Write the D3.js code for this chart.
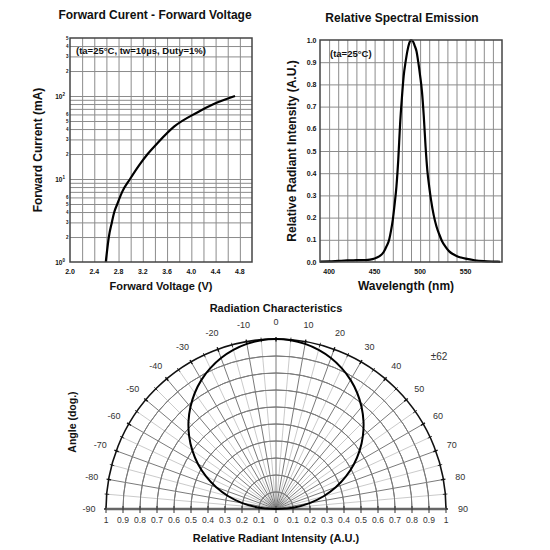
<!DOCTYPE html>
<html><head><meta charset="utf-8">
<script src="https://cdn.jsdelivr.net/npm/d3@7"></script>
<style>body{margin:0;background:#fff}svg{display:block}text{font-family:"Liberation Sans",Arial,sans-serif;fill:#111}</style>
</head><body>
<script>
// ---------- DATA ----------
const fvVoltage = [2.59, 2.64, 2.69, 2.73, 2.78, 2.86, 2.99, 3.15, 3.28, 3.44, 3.72, 4.09, 4.37, 4.72];
const fvCurrent = [1, 2, 3, 4, 5, 7, 10, 15, 20, 27, 43, 63, 80, 100];
const fvXTicks = [2.0, 2.4, 2.8, 3.2, 3.6, 4.0, 4.4, 4.8];
const fvYDecades = [1, 10, 100];
const fvYDecadeExp = ["0", "1", "2"];

const specWl = [390,400,410,420,430,440,445,450,455,460,463,466,468,470,472,474,476,478,480,482,484,486,488,490,492,494,496,498,500,502,504,506,508,510,512,515,518,521,524,528,532,536,540,545,550,560,570,580,588];
const specVal = [0.002,0.003,0.005,0.007,0.008,0.009,0.011,0.016,0.025,0.045,0.07,0.1,0.14,0.19,0.26,0.34,0.46,0.62,0.74,0.84,0.9,0.95,0.985,1.0,0.995,0.975,0.95,0.9,0.84,0.77,0.66,0.52,0.41,0.34,0.28,0.21,0.16,0.125,0.095,0.068,0.048,0.036,0.027,0.02,0.015,0.008,0.004,0.002,0.001];
const specXTicks = [400, 450, 500, 550];
const specYTicks = [0,0.1,0.2,0.3,0.4,0.5,0.6,0.7,0.8,0.9,1.0];

const radAngle = [-90,-85,-80,-75,-70,-65,-60,-55,-50,-45,-40,-35,-30,-25,-20,-15,-10,-5,0,5,10,15,20,25,30,35,40,45,50,55,60,65,70,75,80,85,90];
const radIntensity = [0,0.107,0.201,0.290,0.374,0.454,0.530,0.601,0.667,0.728,0.783,0.833,0.877,0.914,0.945,0.969,0.986,0.997,1,0.997,0.986,0.969,0.945,0.914,0.877,0.833,0.783,0.728,0.667,0.601,0.530,0.454,0.374,0.290,0.201,0.107,0];
const radAngleTicks = [-90,-80,-70,-60,-50,-40,-30,-20,-10,0,10,20,30,40,50,60,70,80,90];
const radRTicks = [-1,-0.9,-0.8,-0.7,-0.6,-0.5,-0.4,-0.3,-0.2,-0.1,0,0.1,0.2,0.3,0.4,0.5,0.6,0.7,0.8,0.9,1];
const halfAngleLabel = "±62";

// ---------- SVG ----------
const svg = d3.select("body").append("svg").attr("width",550).attr("height",550);
svg.append("rect").attr("width",550).attr("height",550).attr("fill","#fff");
const GRID = "#8c8c8c", FRAME = "#444";

// ===== Chart 1: Forward current vs voltage =====
const x1 = d3.scaleLinear().domain([2,5]).range([70,252]);
const y1 = d3.scaleLog().domain([1,500]).range([262,38]);
const g1 = svg.append("g");
g1.append("g").attr("transform","translate(0,262)")
  .call(d3.axisBottom(x1).tickValues(d3.range(2.2,4.9,0.2)).tickSize(-224).tickFormat(""))
  .call(g=>{g.select(".domain").remove();g.selectAll("line").attr("stroke",GRID).attr("stroke-width",1);});
const fvMinor = [];
fvYDecades.forEach(d=>{for(let k=1;k<=9;k++){const v=k*d; if(v>1&&v<500) fvMinor.push(v);}});
g1.append("g").attr("transform","translate(70,0)")
  .call(d3.axisLeft(y1).tickValues(fvMinor).tickSize(-182).tickFormat(""))
  .call(g=>{g.select(".domain").remove();g.selectAll("line").attr("stroke",GRID).attr("stroke-width",1);});
g1.append("path").datum(fvVoltage.map((v,i)=>[v,fvCurrent[i]]))
  .attr("d",d3.line().x(d=>x1(d[0])).y(d=>y1(d[1])).curve(d3.curveMonotoneX))
  .attr("fill","none").attr("stroke","#000").attr("stroke-width",2.2);
g1.append("rect").attr("x",70).attr("y",38).attr("width",182).attr("height",224)
  .attr("fill","none").attr("stroke",FRAME).attr("stroke-width",1.5);
g1.selectAll(".xl").data(fvXTicks).enter().append("text")
  .attr("x",d=>x1(d)).attr("y",274).attr("text-anchor","middle")
  .attr("font-size",7).attr("font-weight","bold").text(d=>d.toFixed(1));
fvYDecades.forEach((d,i)=>{
  const t=g1.append("text").attr("x",65).attr("y",y1(d)+2.5).attr("text-anchor","end")
    .attr("font-size",6.5).attr("font-weight","bold");
  t.append("tspan").text("10");
  t.append("tspan").attr("dy",-3).attr("font-size",4.5).text(fvYDecadeExp[i]);
});
const fvMinorLabels=[];
fvYDecades.forEach(d=>{[2,3,4,5,6].forEach(k=>{if(k*d<=500) fvMinorLabels.push([k*d,k]);});});
g1.selectAll(".ml").data(fvMinorLabels).enter().append("text")
  .attr("x",68.5).attr("y",d=>y1(d[0])+1.6).attr("text-anchor","end")
  .attr("font-size",4.5).attr("font-weight","bold").text(d=>d[1]);
g1.append("text").attr("x",155).attr("y",19).attr("text-anchor","middle")
  .attr("font-size",12).attr("font-weight","bold").text("Forward Curent - Forward Voltage");
g1.append("text").attr("x",76).attr("y",53.5).attr("font-size",9.5).attr("font-weight","bold")
  .text("(ta=25°C, tw=10µs, Duty=1%)");
g1.append("text").attr("x",161).attr("y",290).attr("text-anchor","middle")
  .attr("font-size",11).attr("font-weight","bold").text("Forward Voltage (V)");
g1.append("text").attr("transform","translate(42,150) rotate(-90)").attr("text-anchor","middle")
  .attr("font-size",12).attr("font-weight","bold").text("Forward Current (mA)");

// ===== Chart 2: Relative spectral emission =====
const x2 = d3.scaleLinear().domain([390,590]).range([320,502]);
const y2 = d3.scaleLinear().domain([0,1]).range([262,40]);
const g2 = svg.append("g");
g2.append("g").attr("transform","translate(0,262)")
  .call(d3.axisBottom(x2).tickValues(d3.range(400,590,10)).tickSize(-222).tickFormat(""))
  .call(g=>{g.select(".domain").remove();g.selectAll("line").attr("stroke",GRID).attr("stroke-width",1);});
g2.append("g").attr("transform","translate(320,0)")
  .call(d3.axisLeft(y2).tickValues(specYTicks.slice(1,-1)).tickSize(-182).tickFormat(""))
  .call(g=>{g.select(".domain").remove();g.selectAll("line").attr("stroke",GRID).attr("stroke-width",1);});
g2.append("path").datum(specWl.map((w,i)=>[w,specVal[i]]))
  .attr("d",d3.line().x(d=>x2(d[0])).y(d=>y2(d[1])).curve(d3.curveMonotoneX))
  .attr("fill","none").attr("stroke","#000").attr("stroke-width",2.2);
g2.append("rect").attr("x",320).attr("y",40).attr("width",182).attr("height",222)
  .attr("fill","none").attr("stroke",FRAME).attr("stroke-width",1.5);
g2.selectAll(".xl").data(specXTicks).enter().append("text")
  .attr("x",d=>x2(d)).attr("y",274).attr("text-anchor","middle")
  .attr("font-size",7).attr("font-weight","bold").text(d=>d);
g2.selectAll(".yl").data(specYTicks).enter().append("text")
  .attr("x",316.5).attr("y",d=>y2(d)+2.5).attr("text-anchor","end")
  .attr("font-size",7).attr("font-weight","bold").text(d=>d.toFixed(1));
g2.append("text").attr("x",402).attr("y",22).attr("text-anchor","middle")
  .attr("font-size",12).attr("font-weight","bold").text("Relative Spectral Emission");
g2.append("text").attr("x",330).attr("y",57).attr("font-size",9.5).attr("font-weight","bold").text("(ta=25°C)");
g2.append("text").attr("x",406).attr("y",290).attr("text-anchor","middle")
  .attr("font-size",12).attr("font-weight","bold").text("Wavelength (nm)");
g2.append("text").attr("transform","translate(296,151) rotate(-90)").attr("text-anchor","middle")
  .attr("font-size",12).attr("font-weight","bold").text("Relative Radiant Intensity (A.U.)");

// ===== Chart 3: Radiation characteristics =====
const cx=276, cy=509;
const rS = d3.scaleLinear().domain([0,1]).range([0,170]);
const aS = d3.scaleLinear().domain([-90,90]).range([-Math.PI/2, Math.PI/2]);
const pt = (deg,r)=>[cx+rS(r)*Math.sin(aS(deg)), cy-rS(r)*Math.cos(aS(deg))];
const g3 = svg.append("g");
g3.selectAll(".lr").data(d3.range(-85,90,10)).enter().append("line")
  .attr("x1",cx).attr("y1",cy).attr("x2",d=>pt(d,1)[0]).attr("y2",d=>pt(d,1)[1])
  .attr("stroke","#c4c4c4").attr("stroke-width",0.9);
g3.selectAll(".dr").data(d3.range(-80,81,10)).enter().append("line")
  .attr("x1",cx).attr("y1",cy).attr("x2",d=>pt(d,1)[0]).attr("y2",d=>pt(d,1)[1])
  .attr("stroke","#7a7a7a").attr("stroke-width",1);
const arc = d3.arc().startAngle(-Math.PI/2).endAngle(Math.PI/2);
g3.selectAll(".ca").data(d3.range(0.1,0.95,0.1)).enter().append("path")
  .attr("transform",`translate(${cx},${cy})`)
  .attr("d",d=>arc({innerRadius:rS(d),outerRadius:rS(d)}))
  .attr("fill","none").attr("stroke","#7a7a7a").attr("stroke-width",1);
g3.append("path").attr("transform",`translate(${cx},${cy})`)
  .attr("d",arc({innerRadius:rS(1),outerRadius:rS(1)}))
  .attr("fill","none").attr("stroke","#111").attr("stroke-width",1.6);
g3.selectAll(".ot").data(d3.range(-90,91,5)).enter().append("line")
  .attr("x1",d=>pt(d,0.985)[0]).attr("y1",d=>pt(d,0.985)[1])
  .attr("x2",d=>pt(d,1.012)[0]).attr("y2",d=>pt(d,1.012)[1])
  .attr("stroke","#111").attr("stroke-width",d=>d%10===0?1.4:0.8);
g3.append("line").attr("x1",cx-rS(1)).attr("x2",cx+rS(1)).attr("y1",cy).attr("y2",cy)
  .attr("stroke","#666").attr("stroke-width",2.5);
g3.selectAll(".bt").data(radRTicks).enter().append("line")
  .attr("x1",d=>cx+rS(d)).attr("x2",d=>cx+rS(d)).attr("y1",cy-3).attr("y2",cy+4)
  .attr("stroke","#333").attr("stroke-width",1);
g3.append("path").datum(radAngle.map((a,i)=>pt(a,radIntensity[i])))
  .attr("d",d3.line().curve(d3.curveCatmullRom))
  .attr("fill","none").attr("stroke","#000").attr("stroke-width",2);
g3.selectAll(".al").data(radAngleTicks).enter().append("text")
  .attr("x",d=>cx+187*Math.sin(aS(d))).attr("y",d=>cy-187*Math.cos(aS(d))+3)
  .attr("text-anchor","middle").attr("font-size",9).style("fill","#333").text(d=>d);
g3.selectAll(".rl").data(radRTicks).enter().append("text")
  .attr("x",d=>cx+rS(d)).attr("y",cy+13.5).attr("text-anchor","middle")
  .attr("font-size",8.5).style("fill","#333").text(d=>String(Math.abs(d)));
g3.append("text").attr("x",439).attr("y",360).attr("text-anchor","middle")
  .attr("font-size",10).style("fill","#333").text(halfAngleLabel);
g3.append("text").attr("x",276).attr("y",312).attr("text-anchor","middle")
  .attr("font-size",11).attr("font-weight","bold").text("Radiation Characteristics");
g3.append("text").attr("x",276).attr("y",542).attr("text-anchor","middle")
  .attr("font-size",11).attr("font-weight","bold").text("Relative Radiant Intensity (A.U.)");
g3.append("text").attr("transform","translate(76,422) rotate(-90)").attr("text-anchor","middle")
  .attr("font-size",10.5).attr("font-weight","bold").text("Angle (dog.)");
</script>
</body></html>
